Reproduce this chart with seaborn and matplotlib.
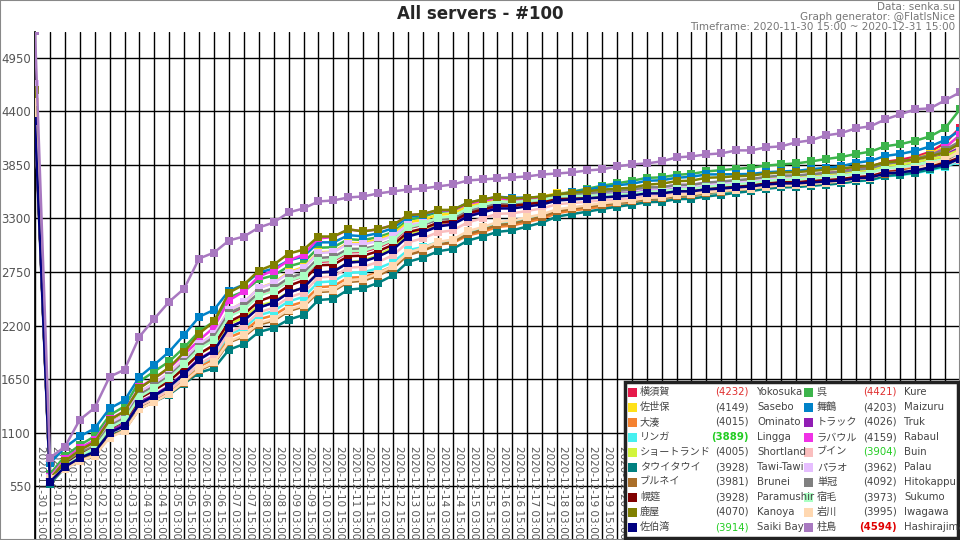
import numpy as np
import pandas as pd
import matplotlib
matplotlib.use("Agg")
import matplotlib.pyplot as plt
import seaborn as sns

sns.set_theme(style="white")
plt.rcParams['font.family'] = ['Noto Sans CJK JP', 'DejaVu Sans']

# 12h steps from 2020-11-30 15:00 to 2020-12-31 15:00
times = pd.date_range("2020-11-30 15:00", "2020-12-31 15:00", freq="12h")
tick_labels = [t.strftime("%Y-%m-%d %H:%M") for t in times]

# Saiki Bay (absolute values)
saiki = [4300, 596, 750, 843, 905, 1100, 1172, 1398, 1480, 1573,
         1706, 1850, 1943, 2179, 2251, 2385, 2436, 2539, 2590, 2745,
         2755, 2848, 2858, 2909, 2981, 3115, 3156, 3218, 3238, 3320,
         3362, 3403, 3403, 3423, 3444, 3485, 3495, 3505, 3516, 3526,
         3536, 3557, 3557, 3578, 3578, 3598, 3608, 3619, 3629, 3649,
         3660, 3660, 3670, 3680, 3690, 3711, 3721, 3762, 3773, 3793,
         3824, 3855, 3914]

# Hashirajima (absolute)
hashirajima = [5220, 843, 956, 1234, 1357, 1675, 1748, 2087, 2272, 2447,
               2580, 2889, 2950, 3074, 3115, 3207, 3259, 3362, 3403, 3475,
               3485, 3516, 3526, 3557, 3578, 3598, 3608, 3629, 3649, 3690,
               3701, 3711, 3721, 3732, 3752, 3762, 3773, 3793, 3804, 3834,
               3855, 3865, 3886, 3927, 3937, 3958, 3968, 3999, 3999, 4030,
               4040, 4081, 4102, 4153, 4174, 4225, 4246, 4318, 4369, 4420,
               4431, 4513, 4594]

# gap to Saiki Bay
gap_yokosuka = [70, 60, 70, 80, 90, 100, 110, 110, 120, 120,
                120, 120, 130, 130, 130, 130, 125, 120, 115, 110,
                110, 105, 100, 95, 90, 85, 80, 75, 70, 65,
                60, 58, 56, 55, 54, 52, 50, 50, 50, 50,
                50, 52, 54, 56, 58, 60, 62, 64, 66, 68,
                70, 75, 80, 85, 90, 100, 110, 120, 130, 140,
                160, 220, 318]
gap_kure = [150, 80, 110, 130, 160, 180, 200, 230, 250, 260,
            270, 290, 300, 310, 300, 290, 280, 270, 260, 255,
            250, 240, 220, 200, 180, 170, 160, 150, 140, 130,
            120, 110, 100, 90, 80, 60, 80, 100, 120, 135,
            150, 160, 165, 170, 180, 185, 188, 190, 192, 194,
            195, 205, 215, 230, 240, 250, 265, 280, 290, 305,
            319, 370, 507]
gap_sasebo = [60, 40, 60, 80, 90, 100, 110, 120, 130, 140,
              150, 160, 170, 180, 190, 200, 205, 210, 210, 208,
              205, 200, 190, 175, 160, 145, 130, 120, 110, 105,
              100, 95, 90, 85, 80, 75, 70, 68, 65, 62,
              60, 60, 60, 60, 60, 60, 60, 60, 60, 60,
              60, 62, 65, 68, 72, 78, 85, 95, 105, 120,
              140, 180, 235]
gap_maizuru = [120, 190, 200, 220, 240, 250, 260, 277, 320, 360,
               400, 440, 420, 380, 370, 360, 350, 330, 320, 310,
               300, 280, 260, 240, 220, 200, 180, 160, 150, 140,
               130, 120, 110, 90, 70, 60, 75, 90, 105, 115,
               120, 130, 135, 140, 150, 154, 145, 135, 128, 125,
               123, 128, 135, 140, 145, 160, 170, 180, 190, 200,
               216, 250, 289]
gap_ominato = [60, 10, 0, -10, -15, -20, -25, -30, -40, -50,
               -60, -70, -85, -100, -110, -120, -130, -140, -145, -150,
               -150, -155, -160, -165, -170, -175, -180, -185, -190, -195,
               -200, -190, -175, -160, -145, -130, -115, -105, -95, -85,
               -80, -72, -65, -58, -52, -46, -40, -35, -30, -26,
               -22, -18, -14, -10, -5, 0, 5, 15, 25, 40,
               55, 75, 101]
gap_truk = [90, 30, 40, 30, 30, 20, 20, 20, 10, 10,
            10, 10, 5, 5, 0, 0, 0, 0, 0, 0,
            0, 0, 5, 5, 10, 10, 12, 14, 16, 18,
            20, 22, 24, 26, 28, 30, 32, 34, 36, 38,
            40, 42, 44, 46, 48, 50, 52, 54, 56, 58,
            60, 62, 64, 66, 68, 70, 72, 75, 78, 82,
            88, 100, 112]
gap_lingga = [70, 20, 30, 20, 10, 0, -10, -20, -25, -30,
              -40, -50, -60, -70, -75, -80, -85, -90, -95, -100,
              -100, -105, -110, -120, -130, -140, -150, -160, -165, -168,
              -170, -160, -145, -130, -115, -100, -90, -80, -70, -65,
              -60, -55, -50, -46, -42, -40, -38, -36, -35, -34,
              -33, -32, -31, -30, -30, -30, -29, -29, -28, -28,
              -27, -26, -25]
gap_rabaul = [90, 50, 80, 100, 120, 140, 150, 170, 180, 190,
              200, 200, 240, 280, 300, 320, 330, 330, 340, 350,
              355, 340, 310, 280, 250, 220, 190, 165, 145, 130,
              120, 105, 90, 80, 70, 60, 60, 60, 60, 60,
              60, 62, 64, 65, 66, 68, 68, 69, 70, 70,
              70, 72, 75, 80, 85, 90, 95, 100, 105, 112,
              120, 170, 245]
gap_shortland = [70, 20, 30, 40, 40, 50, 50, 60, 60, 60,
                 60, 60, 50, 40, 30, 20, 10, 5, 0, 0,
                 0, 5, 10, 15, 20, 25, 30, 32, 35, 38,
                 40, 42, 44, 46, 48, 50, 52, 54, 56, 58,
                 60, 61, 62, 63, 64, 65, 66, 67, 68, 69,
                 70, 71, 72, 73, 74, 75, 76, 78, 80, 84,
                 86, 88, 91]
gap_buin = [110, 0, 10, 0, -10, -15, -20, -25, -30, -35,
            -40, -45, -50, -50, -50, -50, -50, -50, -50, -50,
            -50, -52, -54, -56, -58, -60, -60, -60, -60, -60,
            -60, -55, -50, -45, -40, -38, -36, -34, -32, -30,
            -30, -28, -26, -25, -24, -23, -22, -21, -20, -20,
            -20, -19, -18, -17, -16, -15, -14, -13, -12, -12,
            -12, -11, -10]
gap_tawitawi = [100, -20, -10, -15, -20, -30, -40, -50, -60, -80,
                -100, -133, -180, -226, -240, -250, -260, -277, -280, -282,
                -280, -278, -275, -270, -265, -260, -258, -255, -250, -248,
                -247, -240, -225, -205, -185, -165, -150, -135, -120, -105,
                -95, -90, -85, -80, -76, -72, -65, -55, -48, -44,
                -41, -38, -35, -33, -30, -28, -26, -25, -23, -22,
                -20, -15, 14]
gap_palau = [380, 40, 60, 80, 90, 100, 110, 120, 130, 140,
             150, 160, 170, 180, 190, 200, 200, 200, 200, 200,
             200, 190, 175, 160, 140, 120, 100, 85, 70, 65,
             60, 58, 56, 54, 52, 50, 50, 50, 50, 50,
             50, 50, 50, 50, 50, 50, 50, 50, 50, 50,
             50, 50, 50, 50, 50, 50, 50, 50, 50, 50,
             50, 49, 48]
gap_brunei = [80, 0, -10, -20, -30, -40, -45, -50, -60, -70,
              -90, -110, -130, -150, -165, -175, -185, -190, -195, -200,
              -200, -200, -198, -195, -192, -190, -188, -185, -182, -180,
              -180, -170, -155, -140, -125, -110, -95, -85, -75, -65,
              -60, -55, -50, -45, -40, -36, -32, -28, -25, -22,
              -20, -18, -15, -12, -10, -8, -5, -2, 2, 10,
              20, 40, 67]
gap_hitokappu = [100, 20, 30, 50, 60, 70, 80, 90, 100, 110,
                 120, 130, 140, 150, 150, 150, 150, 150, 150, 150,
                 150, 140, 130, 115, 100, 90, 80, 70, 60, 55,
                 50, 50, 50, 50, 50, 50, 52, 54, 56, 58,
                 60, 62, 64, 66, 68, 70, 72, 74, 76, 78,
                 80, 82, 84, 86, 88, 90, 95, 100, 110, 120,
                 130, 150, 178]
gap_paramushir = [100, 10, 20, 30, 40, 45, 50, 55, 60, 60,
                  60, 60, 60, 60, 65, 65, 70, 70, 75, 75,
                  70, 65, 60, 55, 50, 45, 40, 38, 35, 32,
                  30, 28, 26, 24, 22, 20, 18, 16, 15, 14,
                  14, 14, 14, 14, 14, 14, 14, 14, 14, 14,
                  14, 14, 14, 14, 14, 14, 14, 14, 14, 14,
                  14, 14, 14]
gap_sukumo = [130, 0, 10, 20, 40, 50, 60, 70, 80, 90,
              100, 110, 110, 115, 115, 120, 120, 120, 120, 120,
              120, 115, 110, 105, 100, 95, 90, 88, 85, 82,
              80, 72, 64, 56, 48, 40, 34, 28, 24, 22,
              20, 20, 22, 24, 26, 28, 30, 32, 34, 36,
              38, 40, 42, 44, 46, 48, 50, 52, 54, 56,
              57, 58, 59]
gap_kanoya = [320, 30, 60, 80, 100, 130, 150, 160, 180, 200,
              220, 268, 300, 360, 370, 380, 390, 400, 390, 370,
              360, 340, 310, 280, 250, 220, 190, 170, 150, 140,
              133, 120, 100, 90, 80, 62, 70, 75, 80, 80,
              80, 90, 100, 105, 110, 120, 115, 115, 110, 112,
              113, 115, 118, 120, 120, 120, 118, 115, 115, 113,
              113, 125, 156]
gap_iwagawa = [200, 30, -20, -30, -40, -50, -50, -55, -60, -70,
               -80, -100, -120, -140, -150, -160, -170, -175, -180, -185,
               -185, -185, -180, -175, -170, -165, -160, -158, -155, -150,
               -150, -140, -125, -110, -100, -90, -80, -70, -60, -55,
               -50, -45, -40, -35, -30, -28, -26, -24, -22, -21,
               -20, -18, -15, -12, -10, -8, -5, 0, 5, 15,
               30, 50, 81]

# (jp name, romaji, colour, gap)
servers = [
    ("横須賀", "Yokosuka", "#e6194b", gap_yokosuka),
    ("呉", "Kure", "#3cb44b", gap_kure),
    ("佐世保", "Sasebo", "#ffe119", gap_sasebo),
    ("舞鶴", "Maizuru", "#0082c8", gap_maizuru),
    ("大湊", "Ominato", "#f58231", gap_ominato),
    ("トラック", "Truk", "#911eb4", gap_truk),
    ("リンガ", "Lingga", "#46f0f0", gap_lingga),
    ("ラバウル", "Rabaul", "#f032e6", gap_rabaul),
    ("ショートランド", "Shortland", "#d2f53c", gap_shortland),
    ("ブイン", "Buin", "#fabebe", gap_buin),
    ("タウイタウイ", "Tawi-Tawi", "#008080", gap_tawitawi),
    ("パラオ", "Palau", "#e6beff", gap_palau),
    ("ブルネイ", "Brunei", "#aa6e28", gap_brunei),
    ("単冠", "Hitokappu", "#808080", gap_hitokappu),
    ("幌筵", "Paramushir", "#800000", gap_paramushir),
    ("宿毛", "Sukumo", "#aaffc3", gap_sukumo),
    ("鹿屋", "Kanoya", "#808000", gap_kanoya),
    ("岩川", "Iwagawa", "#ffd8b1", gap_iwagawa),
]

rows = []
for jp, en, col, gap in servers:
    for i, g in enumerate(gap):
        rows.append((en, i, saiki[i] + g))
for i, v in enumerate(saiki):
    rows.append(("Saiki Bay", i, v))
for i, v in enumerate(hashirajima):
    rows.append(("Hashirajima", i, v))
df = pd.DataFrame(rows, columns=["server", "idx", "senka"])

colors = {en: col for _, en, col, _ in servers}
colors["Saiki Bay"] = "#000080"
colors["Hashirajima"] = "#a878c0"
jp_names = {en: jp for jp, en, _, _ in servers}
jp_names["Saiki Bay"] = "佐伯湾"
jp_names["Hashirajima"] = "柱島"

fig = plt.figure(figsize=(9.6, 5.4), dpi=100)
ax = fig.add_axes([35 / 960, 0, 925 / 960, 508 / 540])

for name in df["server"].unique():
    sub = df[df["server"] == name]
    sns.lineplot(data=sub, x="idx", y="senka", ax=ax, color=colors[name],
                 marker="s", markersize=5.5, markeredgewidth=0, linewidth=1.8,
                 legend=False, zorder=3)

ymax = 5214
ax.set_xlim(0, len(times) - 1)
ax.set_ylim(0, ymax)
yt = list(range(550, 5000, 550))
ax.set_yticks(yt)
ax.set_yticklabels([str(v) for v in yt], color="#555555", fontsize=8.5,
                   family="DejaVu Sans")
ax.set_xticks(range(len(times)))
ax.set_xticklabels([])
ax.tick_params(axis="both", length=0, pad=3)
ax.grid(True, color="black", linewidth=1, zorder=0)
ax.set_axisbelow(True)
ax.set_xlabel("")
ax.set_ylabel("")
for s in ["top", "right", "bottom"]:
    ax.spines[s].set_visible(False)
ax.spines["left"].set_color("black")

for i, lab in enumerate(tick_labels):
    ax.text(i + 0.42, 960, lab, rotation=-90, ha="center", va="top",
            fontsize=7.5, color="#555555", family="DejaVu Sans", zorder=2,
            clip_on=True)

fig.text(0.5, 1 - 14 / 540, "All servers - #100", ha="center", va="center",
         fontsize=12, fontweight="bold", family="DejaVu Sans")
fig.text(955 / 960, 1 - 2 / 540,
         "Data: senka.su\nGraph generator: @FlatIsNice\n"
         "Timeframe: 2020-11-30 15:00 ~ 2020-12-31 15:00",
         ha="right", va="top", fontsize=7.5, color="#777777",
         family="DejaVu Sans", linespacing=1.0)

# custom legend box
finals = {n: df[(df["server"] == n)]["senka"].iloc[-1] for n in df["server"].unique()}
left_col = ["Yokosuka", "Sasebo", "Ominato", "Lingga", "Shortland", "Tawi-Tawi",
            "Brunei", "Paramushir", "Kanoya", "Saiki Bay"]
right_col = ["Kure", "Maizuru", "Truk", "Rabaul", "Buin", "Palau",
             "Hitokappu", "Sukumo", "Iwagawa", "Hashirajima"]
value_style = {"Yokosuka": ("#e03030", "normal"), "Kure": ("#e03030", "normal"),
               "Hashirajima": ("#e00000", "bold"), "Lingga": ("#22cc22", "bold"),
               "Buin": ("#22cc22", "normal"), "Saiki Bay": ("#22cc22", "normal")}

box = plt.Rectangle((625 / 960, 1 - 538 / 540), 333 / 960, 156 / 540,
                    transform=fig.transFigure, facecolor="white",
                    edgecolor="#222222", linewidth=2.5, zorder=10)
fig.patches.append(box)
for col_names, xs in ((left_col, (632, 640, 749, 757)),
                      (right_col, (808, 817, 897, 904))):
    for r, name in enumerate(col_names):
        y = 1 - (392 + 15 * r) / 540
        fig.patches.append(plt.Rectangle(((xs[0] - 4.5) / 960, y - 4.5 / 540), 9 / 960, 9 / 540,
                                         transform=fig.transFigure,
                                         facecolor=colors[name], edgecolor="none", zorder=11))
        fig.text(xs[1] / 960, y, jp_names[name], ha="left", va="center",
                 fontsize=7.3, color="#444444", zorder=12)
        c, w = value_style.get(name, ("#444444", "normal"))
        fig.text(xs[2] / 960, y, f"({finals[name]})", ha="right", va="center",
                 fontsize=7.3, color=c, fontweight=w, family="DejaVu Sans", zorder=12)
        fig.text(xs[3] / 960, y, name, ha="left", va="center",
                 fontsize=7.3, color="#444444", family="DejaVu Sans", zorder=12)

fig.patches.append(plt.Rectangle((0, 0), 1, 1, transform=fig.transFigure,
                                 fill=False, edgecolor="#888888", linewidth=1.5))
fig.savefig("out.png", dpi=100)
